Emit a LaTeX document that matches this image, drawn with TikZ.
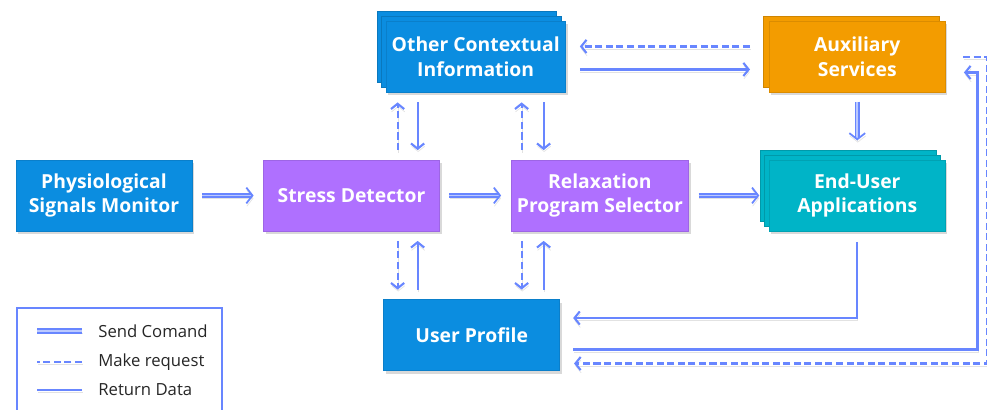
\documentclass[tikz,border=0pt]{standalone}
\usepackage{fontspec}
\setmainfont{Open Sans}
\usetikzlibrary{arrows.meta,positioning,calc,shadows}
\definecolor{boxblue}{RGB}{11,141,224}
\definecolor{boxpurple}{RGB}{175,112,255}
\definecolor{boxteal}{RGB}{0,180,199}
\definecolor{boxorange}{RGB}{243,156,0}
\definecolor{arr}{RGB}{104,134,255}
\tikzset{
  blk/.style={rectangle, fill=#1, draw=#1!90!black, line width=0.3pt,
              minimum height=14.2mm, minimum width=35.2mm, align=center, text=white,
              font=\fontsize{11}{14.2}\selectfont\bfseries,
              drop shadow={opacity=0.3, shadow xshift=0.4mm, shadow yshift=-0.6mm}},
  stack/.style={copy shadow={fill=#1, draw=#1!85!black, shadow xshift=-1.8mm, shadow yshift=2mm},
                copy shadow={fill=#1, draw=#1!85!black, shadow xshift=-0.9mm, shadow yshift=1mm}},
  stack1/.style={copy shadow={fill=#1, draw=#1!85!black, shadow xshift=-1.2mm, shadow yshift=1mm}},
  lshadow/.style={preaction={draw=black!45, opacity=0.25, transform canvas={shift={(0.3pt,-1.6pt)}}}},
  send/.style={lshadow, draw=arr, double=arr!45, double distance=1.1pt, line width=1pt,
               -{Straight Barb[length=3.5pt,width=9pt]}},
  ret/.style={lshadow, draw=arr, line width=1.2pt, -{Straight Barb[length=3pt,width=7.5pt]}},
  req/.style={ret, dash pattern=on 4pt off 2pt},
  hgap/.style={shorten <=5.5pt, shorten >=5.5pt},
  vgap/.style={shorten <=5.5pt, shorten >=5.5pt},
  lbl/.style={anchor=west, inner sep=0pt, font=\fontsize{9.5}{11}\selectfont, text=black!85},
}
\begin{document}
\begin{tikzpicture}[node distance=13.4mm and 14.2mm]
\clip (0,0) rectangle (19.74,8.2);
\node[blk=boxblue] (mon) at (2.08,4.29) {Physiological\\Signals Monitor};
\node[blk=boxpurple, right=of mon] (det) {Stress Detector};
\node[blk=boxpurple, right=of det] (sel) {Relaxation\\Program Selector};
\node[blk=boxteal, stack=boxteal, right=16mm of sel] (app) {End-User\\Applications};
\coordinate (up) at ($(det.north)!0.5!(sel.north)$);
\coordinate (dn) at ($(det.south)!0.5!(sel.south)$);
\node[blk=boxblue, stack=boxblue, above=of up] (ctx) {Other Contextual\\Information};
\node[blk=boxblue, below=13.6mm of dn, xshift=-0.8mm] (prof) {User Profile};
\node[blk=boxorange, stack1=boxorange] (aux) at (app |- ctx) {Auxiliary\\Services};

% columns of the vertical links
\coordinate (ca) at ($(ctx.south west)+(2.4mm,0)$);
\coordinate (cb) at ($(ctx.south west)+(6.4mm,0)$);
\coordinate (cc) at ($(ctx.south west)+(27.2mm,0)$);
\coordinate (cd) at ($(ctx.south west)+(31.6mm,0)$);

\draw[send, hgap] (mon) -- (det);
\draw[send, hgap] (det) -- (sel);
\draw[send, hgap] (sel) -- (app);
\draw[send, shorten <=5pt, shorten >=11pt] (aux) -- (app);

\draw[req, vgap] (det.north -| ca) -- (ctx.south -| ca);
\draw[ret, vgap] (ctx.south -| cb) -- (det.north -| cb);
\draw[req, vgap] (sel.north -| cc) -- (ctx.south -| cc);
\draw[ret, vgap] (ctx.south -| cd) -- (sel.north -| cd);
\draw[req, vgap] (det.south -| ca) -- (prof.north -| ca);
\draw[ret, vgap] (prof.north -| cb) -- (det.south -| cb);
\draw[req, vgap] (sel.south -| cc) -- (prof.north -| cc);
\draw[ret, vgap] (prof.north -| cd) -- (sel.south -| cd);

\draw[req, shorten <=10.8pt, shorten >=8pt] ([yshift=2.1mm]aux.west) -- ([yshift=2.1mm]ctx.east);
\draw[ret, shorten <=8pt, shorten >=10.8pt] ([yshift=-2.5mm]ctx.east) -- ([yshift=-2.5mm]aux.west);

\draw[ret, shorten <=6pt, shorten >=7.5pt] (app.south) |- ([yshift=3.4mm]prof.east);
\draw[ret, shorten <=7.5pt, shorten >=10.5pt] ([yshift=-2.9mm]prof.east)
  -| ([xshift=6.4mm,yshift=-3.1mm]aux.east) -- ([yshift=-3.1mm]aux.east);
\draw[req, shorten <=10pt, shorten >=8pt] (aux.east) -- ([xshift=8.3mm]aux.east)
  |- ([yshift=-5.7mm]prof.east);

% legend
\draw[arr, line width=1pt] (0.34,-0.5) rectangle (4.44,2.04);
\node[lbl] (l1) at (1.96,1.58) {Send Comand};
\node[lbl] (l2) at (1.96,0.96) {Make request};
\node[lbl] (l3) at (1.96,0.40) {Return Data};
\draw[send, arrows=-] ([xshift=-3.2mm]l1.west) -- ++(-9mm,0);
\draw[req, arrows=-] ([xshift=-3.2mm]l2.west) -- ++(-9mm,0);
\draw[ret, arrows=-] ([xshift=-3.2mm]l3.west) -- ++(-9mm,0);
\end{tikzpicture}
\end{document}
